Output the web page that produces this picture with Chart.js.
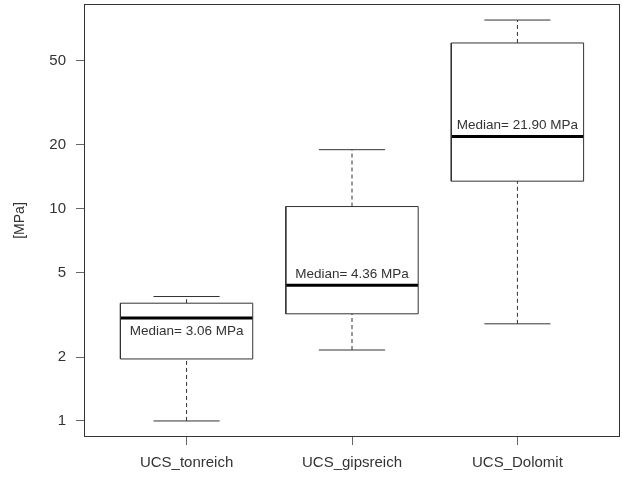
<!DOCTYPE html>
<html>
<head>
<meta charset="utf-8">
<title>UCS Boxplot</title>
<script src="https://cdn.jsdelivr.net/npm/chart.js@4.4.1/dist/chart.umd.min.js"></script>
<style>
  body { margin: 0; background: #fff; }
</style>
</head>
<body>
<canvas id="ucsBoxChart" width="622" height="479"></canvas>
<script>
// Box statistics (MPa)
const categories = ['UCS_tonreich', 'UCS_gipsreich', 'UCS_Dolomit'];
const whiskerLow = [1.0, 2.16, 2.87];
const boxLow = [1.96, 3.2, 13.5];
const medians = [3.06, 4.36, 21.9];
const boxHigh = [3.59, 10.25, 60.5];
const whiskerHigh = [3.86, 19.0, 77.6];
const yTicks = [1, 2, 5, 10, 20, 50];
const medianLabels = ['Median= 3.06 MPa', 'Median= 4.36 MPa', 'Median= 21.90 MPa'];
const labelAbove = [false, true, true];

const LINE = '#333';
const TEXT = '#333';
const FONT = 'Liberation Sans, Arial, sans-serif';

// R-style 4% extension of the data range (log axis)
const logMin = Math.log10(Math.min(...whiskerLow));
const logMax = Math.log10(Math.max(...whiskerHigh));
const ext = (logMax - logMin) * 0.04;
const yMin = Math.pow(10, logMin - ext);
const yMax = Math.pow(10, logMax + ext);

function seg(points, opts) {
  return Object.assign({
    data: points,
    showLine: true,
    borderColor: LINE,
    borderWidth: 1,
    pointRadius: 0,
    tension: 0,
    fill: false
  }, opts || {});
}

// build boxes, medians, whiskers and caps from the arrays
const datasets = [];
categories.forEach((c, i) => {
  const x = i + 1;
  datasets.push(seg([
    { x: x - 0.4, y: boxLow[i] }, { x: x + 0.4, y: boxLow[i] },
    { x: x + 0.4, y: boxHigh[i] }, { x: x - 0.4, y: boxHigh[i] },
    { x: x - 0.4, y: boxLow[i] }
  ]));
  datasets.push(seg([{ x: x, y: boxHigh[i] }, { x: x, y: whiskerHigh[i] }], { borderDash: [4, 3] }));
  datasets.push(seg([{ x: x, y: whiskerLow[i] }, { x: x, y: boxLow[i] }], { borderDash: [4, 3] }));
  datasets.push(seg([{ x: x - 0.2, y: whiskerHigh[i] }, { x: x + 0.2, y: whiskerHigh[i] }]));
  datasets.push(seg([{ x: x - 0.2, y: whiskerLow[i] }, { x: x + 0.2, y: whiskerLow[i] }]));
  datasets.push(seg([{ x: x - 0.4, y: medians[i] }, { x: x + 0.4, y: medians[i] }], { borderColor: '#000', borderWidth: 3 }));
});

// frame around the plot region + median annotations
const framePlugin = {
  id: 'frameAndLabels',
  afterDatasetsDraw(chart) {
    const { ctx, chartArea, scales } = chart;
    ctx.save();
    ctx.strokeStyle = LINE;
    ctx.lineWidth = 1;
    ctx.strokeRect(Math.round(chartArea.left) + 0.5, Math.round(chartArea.top) + 0.5,
      Math.round(chartArea.right - chartArea.left) - 1, Math.round(chartArea.bottom - chartArea.top) - 1);

    ctx.fillStyle = TEXT;
    ctx.font = '13.5px ' + FONT;
    ctx.textAlign = 'center';
    ctx.textBaseline = 'middle';
    medianLabels.forEach((label, i) => {
      const px = scales.x.getPixelForValue(i + 1);
      const py = scales.y.getPixelForValue(medians[i]);
      ctx.fillText(label, px, labelAbove[i] ? py - 11 : py + 13);
    });
    ctx.restore();
  }
};

new Chart(document.getElementById('ucsBoxChart'), {
  type: 'scatter',
  data: { datasets: datasets },
  options: {
    responsive: false,
    animation: false,
    layout: { padding: { top: 4, right: 2, bottom: 0, left: 0 } },
    plugins: {
      legend: { display: false },
      tooltip: { enabled: false }
    },
    scales: {
      x: {
        type: 'linear',
        min: 0.38,
        max: 3.62,
        afterBuildTicks: function(scale) {
          scale.ticks = categories.map((c, i) => ({ value: i + 1 }));
        },
        afterFit: function(scale) {
          scale.height = 42;
          scale.paddingLeft = 0;
          scale.paddingRight = 0;
        },
        ticks: {
          autoSkip: false,
          maxRotation: 0,
          padding: 9,
          color: TEXT,
          font: { family: FONT, size: 15 },
          callback: function(value) { return categories[value - 1]; }
        },
        grid: { drawOnChartArea: false, tickLength: 8, color: '#666' },
        border: { display: false }
      },
      y: {
        type: 'logarithmic',
        min: yMin,
        max: yMax,
        afterBuildTicks: function(scale) {
          scale.ticks = yTicks.map(v => ({ value: v }));
        },
        afterFit: function(scale) {
          scale.width = 84;
          scale.paddingTop = 0;
          scale.paddingBottom = 0;
        },
        ticks: {
          padding: 10,
          color: TEXT,
          font: { family: FONT, size: 15 },
          callback: function(value) { return String(value); }
        },
        grid: { drawOnChartArea: false, tickLength: 8, color: '#666' },
        border: { display: false },
        title: {
          display: true,
          text: '[MPa]',
          color: TEXT,
          padding: { top: 12, bottom: 0 },
          font: { family: FONT, size: 14 }
        }
      }
    }
  },
  plugins: [framePlugin]
});
</script>
</body>
</html>
